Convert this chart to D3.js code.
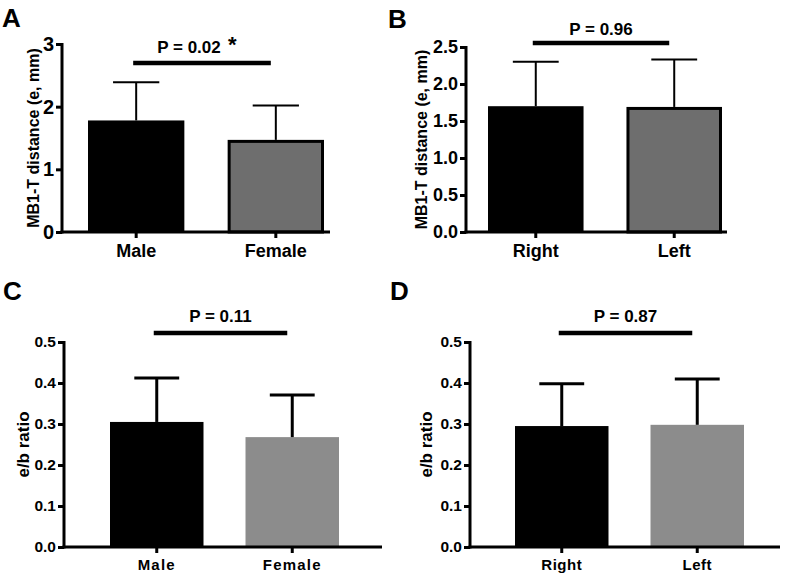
<!DOCTYPE html>
<html><head><meta charset="utf-8">
<script src="https://cdn.jsdelivr.net/npm/d3@7"></script>
<style>
body{margin:0;background:#fff}
svg{display:block}
text{font-family:"Liberation Sans",Arial,sans-serif;font-weight:bold;fill:#000}
</style>
</head><body>
<svg id="chart" width="792" height="575"></svg>
<script>
// ---- data ----
const sexGroups = ["Male", "Female"];
const sideGroups = ["Right", "Left"];
const distSexMean = [1.78, 1.47];
const distSexSD = [0.61, 0.55];
const distSideMean = [1.70, 1.69];
const distSideSD = [0.60, 0.64];
const ratioSexMean = [0.305, 0.268];
const ratioSexSD = [0.107, 0.103];
const ratioSideMean = [0.295, 0.298];
const ratioSideSD = [0.103, 0.112];
const pLabels = ["P = 0.02", "P = 0.96", "P = 0.11", "P = 0.87"];
const panelLetters = ["A", "B", "C", "D"];
const distSexTicks = [0, 1, 2, 3];
const distSideTicks = [0, 0.5, 1.0, 1.5, 2.0, 2.5];
const ratioTicks = [0, 0.1, 0.2, 0.3, 0.4, 0.5];
const yTitles = ["MB1-T distance (e, mm)", "MB1-T distance (e, mm)", "e/b ratio", "e/b ratio"];

// ---- layout ----
const panels = [
  {groups: sexGroups, mean: distSexMean, sd: distSexSD, ticks: distSexTicks, fmt: d3.format("d"), ymax: 3,
   ax: 62, y0: 232, yTop: 44, bar0: 88, bar1: 324, axEnd: 330, tickFont: 20, xFont: 18, xSpacing: 0, xBase: 257,
   titleX: 33, titleFont: 16, letterX: 2, letterY: 27, pY: 53, lineY: 63, star: true,
   fill2: "#6e6e6e", stroke2: "#000", ebW: 2, axW: 3},
  {groups: sideGroups, mean: distSideMean, sd: distSideSD, ticks: distSideTicks, fmt: d3.format(".1f"), ymax: 2.5,
   ax: 466, y0: 232, yTop: 47, bar0: 488, bar1: 722, axEnd: 727, tickFont: 18, xFont: 18, xSpacing: 0, xBase: 257,
   titleX: 421, titleFont: 16, letterX: 388, letterY: 28, pY: 35, lineY: 43, star: false,
   fill2: "#6e6e6e", stroke2: "#000", ebW: 2, axW: 3},
  {groups: sexGroups, mean: ratioSexMean, sd: ratioSexSD, ticks: ratioTicks, fmt: d3.format(".1f"), ymax: 0.5,
   ax: 64, y0: 547, yTop: 342, bar0: 110, bar1: 339, axEnd: 382, tickFont: 15.5, xFont: 15, xSpacing: 1.2, xBase: 570,
   titleX: 23, titleFont: 17, letterX: 3, letterY: 300, pY: 322, lineY: 333, star: false,
   fill2: "#8c8c8c", stroke2: null, ebW: 3, axW: 3},
  {groups: sideGroups, mean: ratioSideMean, sd: ratioSideSD, ticks: ratioTicks, fmt: d3.format(".1f"), ymax: 0.5,
   ax: 470, y0: 547, yTop: 342, bar0: 515, bar1: 744, axEnd: 780, tickFont: 15.5, xFont: 15, xSpacing: 0.5, xBase: 570,
   titleX: 426, titleFont: 17, letterX: 390, letterY: 300, pY: 322, lineY: 333, star: false,
   fill2: "#8c8c8c", stroke2: null, ebW: 3, axW: 3}
];

const svg = d3.select("#chart");

panels.forEach((p, i) => {
  const g = svg.append("g");
  const y = d3.scaleLinear().domain([0, p.ymax]).range([p.y0, p.yTop]);
  const x = d3.scaleBand().domain(p.groups).range([p.bar0, p.bar1]).paddingInner(0.31).paddingOuter(0);
  const bw = x.bandwidth();

  // panel letter
  g.append("text").attr("x", p.letterX).attr("y", p.letterY)
    .style("font-size", "26px").text(panelLetters[i]);

  // bars
  p.groups.forEach((grp, j) => {
    const top = y(p.mean[j]);
    if (j === 0) {
      g.append("rect").attr("x", x(grp)).attr("y", top)
        .attr("width", bw).attr("height", p.y0 - top).attr("fill", "#000");
    } else if (p.stroke2) {
      g.append("rect").attr("x", x(grp) + 1.5).attr("y", top + 1.5)
        .attr("width", bw - 3).attr("height", p.y0 - top - 1.5)
        .attr("fill", p.fill2).attr("stroke", p.stroke2).attr("stroke-width", 3);
    } else {
      g.append("rect").attr("x", x(grp)).attr("y", top)
        .attr("width", bw).attr("height", p.y0 - top).attr("fill", p.fill2);
    }
    // error bar (upper)
    const cx = x(grp) + bw / 2;
    const eTop = y(p.mean[j] + p.sd[j]);
    g.append("line").attr("x1", cx).attr("x2", cx).attr("y1", top).attr("y2", eTop)
      .attr("stroke", "#000").attr("stroke-width", p.ebW);
    g.append("line").attr("x1", cx - bw * 0.24).attr("x2", cx + bw * 0.24)
      .attr("y1", eTop).attr("y2", eTop)
      .attr("stroke", "#000").attr("stroke-width", p.ebW);
    // x tick mark
    g.append("line").attr("x1", cx).attr("x2", cx).attr("y1", p.y0).attr("y2", p.y0 + 6)
      .attr("stroke", "#000").attr("stroke-width", p.axW);
    // x label
    g.append("text").attr("x", cx).attr("y", p.xBase).attr("text-anchor", "middle")
      .style("font-size", p.xFont + "px").style("letter-spacing", p.xSpacing + "px")
      .text(grp);
  });

  // y axis
  const yAxis = d3.axisLeft(y).tickValues(p.ticks).tickFormat(p.fmt).tickSize(6).tickSizeOuter(0).tickPadding(2);
  const ya = g.append("g").attr("transform", `translate(${p.ax},0)`).call(yAxis);
  ya.select(".domain").attr("stroke", "#000").attr("stroke-width", p.axW)
    .attr("d", `M0,${p.y0 + p.axW / 2}V${p.yTop - 1}`);
  ya.selectAll(".tick line").attr("stroke", "#000").attr("stroke-width", p.axW);
  ya.selectAll(".tick text").style("font-size", p.tickFont + "px")
    .style("font-family", '"Liberation Sans",Arial,sans-serif').style("font-weight", "bold").attr("fill", "#000");

  // x axis baseline
  g.append("line").attr("x1", p.ax - p.axW / 2).attr("x2", p.axEnd)
    .attr("y1", p.y0).attr("y2", p.y0).attr("stroke", "#000").attr("stroke-width", p.axW);

  // y title
  g.append("text").attr("transform", `translate(${p.titleX},${(p.y0 + p.yTop) / 2}) rotate(-90)`)
    .attr("text-anchor", "middle").attr("dy", "0.35em").style("font-size", p.titleFont + "px").text(yTitles[i]);

  // significance line and label
  const c1 = x(p.groups[0]) + bw / 2, c2 = x(p.groups[1]) + bw / 2;
  g.append("line").attr("x1", c1 - 3).attr("x2", c2 - 5).attr("y1", p.lineY).attr("y2", p.lineY)
    .attr("stroke", "#000").attr("stroke-width", 4.5);
  const mid = (c1 + c2) / 2 - 6;
  g.append("text").attr("x", mid + (p.star ? -11 : 2)).attr("y", p.pY).attr("text-anchor", "middle")
    .style("font-size", "17px").text(pLabels[i]);
  if (p.star) {
    g.append("text").attr("x", mid + 28).attr("y", p.pY - 1).style("font-size", "22px").text("*");
  }
});
</script>
</body></html>
